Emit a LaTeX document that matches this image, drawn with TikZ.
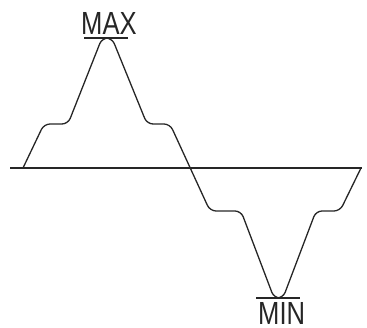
\documentclass[tikz,border=0pt]{standalone}
\usepackage{fontspec}
\setmainfont{Liberation Sans}
\tikzset{
  axisline/.style={line width=1.5pt, black!85},
  wave/.style={line width=1.3pt, black!85, rounded corners=6pt, line join=round},
  limitbar/.style={line width=1.3pt, black!85},
  limitlabel/.style={inner sep=0pt, anchor=base west, font=\fontsize{32}{32}\selectfont, text=black!85},
}
\begin{document}
\begin{tikzpicture}[x=1pt, y=-1pt]
  \useasboundingbox (0,0) rectangle (367,328);
  % horizontal zero line
  \draw[axisline] (10,168) -- (362,168);
  % stepped oscillation
  \draw[wave] (23,168) -- (44,124) -- (68,124) -- (102,38) -- (112,38)
    -- (147,124) -- (170,124) -- (210,211) -- (241,211) -- (274,298)
    -- (283,298) -- (316,211) -- (340,211) -- (361,168);
  % peak and trough markers
  \draw[limitbar] (84,38) -- (128,38);
  \draw[limitbar] (256,298) -- (300,298);
  \node[limitlabel] (max) at (81,35) {\scalebox{0.8}[1]{MAX}};
  \node[limitlabel] (min) at (258,325) {\scalebox{0.8}[1]{MIN}};
\end{tikzpicture}
\end{document}
